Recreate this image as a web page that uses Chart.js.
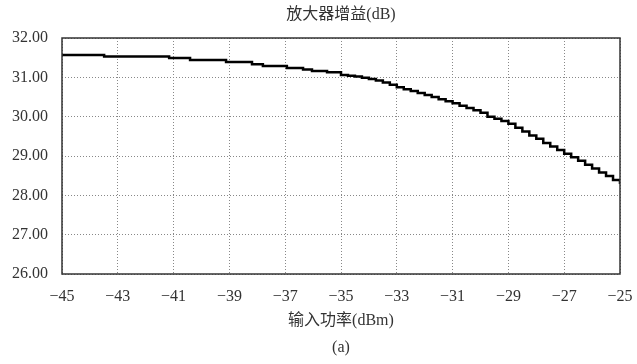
<!DOCTYPE html>
<html>
<head>
<meta charset="utf-8">
<script src="https://cdn.jsdelivr.net/npm/chart.js@4/dist/chart.umd.min.js"></script>
<style>
html,body{margin:0;padding:0;background:#fff;}
#wrap{width:637px;height:364px;position:relative;}
</style>
</head>
<body>
<div id="wrap"><canvas id="c" width="637" height="364"></canvas></div>
<script>
// Step positions (input power, dBm) and gain values (dB)
const inputPower = [-45, -43.49, -41.16, -40.41, -39.12, -38.19, -37.80, -36.94, -36.36, -36.04, -35.50,
  -35.00, -34.75, -34.50, -34.25, -34.00, -33.75, -33.50, -33.25, -33.00, -32.75,
  -32.50, -32.25, -32.00, -31.75, -31.50, -31.25, -31.00, -30.75, -30.50, -30.25,
  -30.00, -29.75, -29.50, -29.25, -29.00, -28.75, -28.50, -28.25, -28.00, -27.75,
  -27.50, -27.25, -27.00, -26.75, -26.50, -26.25, -26.00, -25.75, -25.50, -25.25, -25.00];
const gain = [31.57, 31.53, 31.49, 31.44, 31.39, 31.33, 31.29, 31.24, 31.20, 31.16, 31.13,
  31.06, 31.04, 31.02, 30.99, 30.96, 30.92, 30.87, 30.81, 30.75, 30.70,
  30.65, 30.60, 30.55, 30.50, 30.44, 30.39, 30.34, 30.28, 30.22, 30.16,
  30.10, 30.00, 29.95, 29.89, 29.82, 29.72, 29.62, 29.52, 29.44, 29.33,
  29.24, 29.15, 29.06, 28.97, 28.88, 28.78, 28.68, 28.58, 28.49, 28.39, 28.29];
const xTicks = [-45, -43, -41, -39, -37, -35, -33, -31, -29, -27, -25];
const yTicks = [26, 27, 28, 29, 30, 31, 32];
const chartTitle = '放大器增益(dB)';
const xTitle = '输入功率(dBm)';
const caption = '(a)';

const FONT = '"Liberation Serif", "Times New Roman", "Noto Sans CJK SC", serif';
const TEXT = '#333';

const points = inputPower.map((x, i) => ({x: x, y: gain[i]}));

const framePlugin = {
  id: 'frame',
  afterDraw(chart) {
    const {ctx, chartArea: a} = chart;
    ctx.save();
    ctx.strokeStyle = '#333';
    ctx.lineWidth = 1.5;
    ctx.strokeRect(a.left, a.top, a.right - a.left, a.bottom - a.top);
    ctx.fillStyle = TEXT;
    ctx.font = '16px ' + FONT;
    ctx.textAlign = 'center';
    ctx.textBaseline = 'middle';
    const cx = (a.left + a.right) / 2;
    ctx.fillText(chartTitle, cx, 15);
    ctx.fillText(caption, cx, 348);
    ctx.restore();
  }
};

new Chart(document.getElementById('c'), {
  type: 'line',
  data: {
    datasets: [{
      data: points,
      stepped: true,
      borderColor: '#000',
      borderWidth: 2.5,
      pointRadius: 0,
      fill: false
    }]
  },
  options: {
    responsive: false,
    animation: false,
    layout: {padding: {left: 0, right: 17, top: 38, bottom: 34}},
    plugins: {legend: {display: false}, tooltip: {enabled: false}},
    scales: {
      x: {
        type: 'linear',
        min: -45, max: -25,
        afterBuildTicks(scale) { scale.ticks = xTicks.map(v => ({value: v})); },
        afterFit(scale) { scale.height = 56; scale.paddingLeft = 0; scale.paddingRight = 0; },
        ticks: {
          padding: 13,
          color: TEXT,
          font: {family: FONT, size: 16},
          maxRotation: 0,
          autoSkip: false,
          callback: v => String(v).replace('-', '\u2212')
        },
        grid: {color: '#888', lineWidth: 1, drawTicks: false},
        border: {display: false, dash: [1, 2]},
        title: {display: true, text: xTitle, color: TEXT, font: {family: FONT, size: 16}, padding: {top: 4, bottom: 0}}
      },
      y: {
        min: 26, max: 32,
        afterBuildTicks(scale) { scale.ticks = yTicks.map(v => ({value: v})); },
        afterFit(scale) { scale.width = 62; scale.paddingTop = 0; scale.paddingBottom = 0; },
        ticks: {
          padding: 14,
          color: TEXT,
          font: {family: FONT, size: 16},
          callback: v => Number(v).toFixed(2)
        },
        grid: {color: '#888', lineWidth: 1, drawTicks: false},
        border: {display: false, dash: [1, 2]}
      }
    }
  },
  plugins: [framePlugin]
});
</script>
</body>
</html>
